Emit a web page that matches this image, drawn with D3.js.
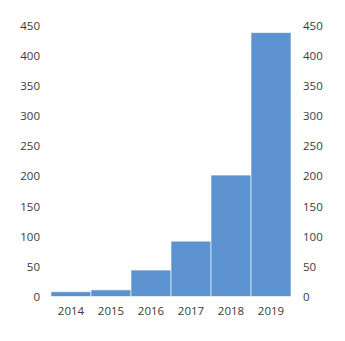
<!DOCTYPE html>
<html><head><meta charset="utf-8">
<script src="https://cdn.jsdelivr.net/npm/d3@7"></script>
<style>body{margin:0;background:#fff}text{font-family:"Open Sans",sans-serif}</style>
</head><body><svg id="c" width="345" height="341"></svg>
<script>
const years = ["2014","2015","2016","2017","2018","2019"];
const values = [8, 11, 44, 92, 202, 439];
const yTicks = [0,50,100,150,200,250,300,350,400,450];

const svg = d3.select("#c");
const x = d3.scaleBand().domain(years).range([51, 291]).padding(0);
const y = d3.scaleLinear().domain([0, 450]).range([296.5, 26]);

svg.append("g").selectAll("rect").data(years).join("rect")
  .attr("x", d => x(d)).attr("width", x.bandwidth())
  .attr("y", (d,i) => y(values[i])).attr("height", (d,i) => y(0) - y(values[i]))
  .attr("fill", "#5b92cf").attr("stroke", "#ffffff").attr("stroke-opacity", 0.6).attr("stroke-width", 1);

const left = d3.axisLeft(y).tickValues(yTicks).tickSize(0).tickPadding(0);
const gl = svg.append("g").attr("transform", "translate(40,0)").call(left);
const right = d3.axisRight(y).tickValues(yTicks).tickSize(0).tickPadding(0);
const gr = svg.append("g").attr("transform", "translate(303,0)").call(right);
const bottom = d3.axisBottom(x).tickSize(0).tickPadding(0);
const gb = svg.append("g").attr("transform", "translate(0,307)").call(bottom);
[gl, gr, gb].forEach(g => {
  g.select(".domain").remove();
  g.selectAll("text").attr("font-family", "'Open Sans',sans-serif").attr("font-size", 11.5).attr("fill", "#3a3a3a");
});
gb.selectAll("text").attr("dy", "0.71em");
</script></body></html>
